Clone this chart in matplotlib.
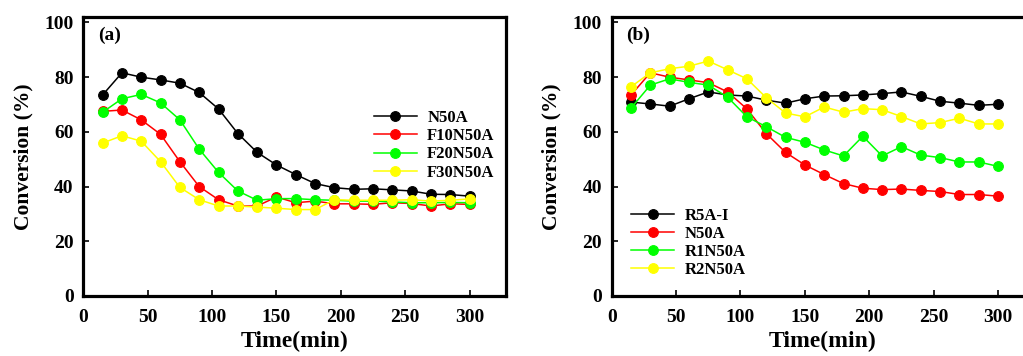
import matplotlib.pyplot as plt

plt.rcParams['font.family'] = 'Liberation Serif'
plt.rcParams['font.weight'] = 'bold'

time = [15, 30, 45, 60, 75, 90, 105, 120, 135, 150, 165, 180, 195, 210, 225, 240, 255, 270, 285, 300]

# panel (a)
n50a_a = [73.5, 81.6, 80.0, 79.0, 77.8, 74.4, 68.4, 59.4, 52.5, 47.9, 44.4, 41.1, 39.6, 39.0, 39.2, 38.8, 38.4, 37.2, 37.1, 36.5]
f10n50a = [67.5, 68.0, 64.4, 59.1, 49.1, 40.0, 35.2, 32.9, 32.9, 36.2, 34.1, 34.7, 33.7, 33.7, 33.5, 34.1, 33.8, 32.9, 33.7, 33.5]
f20n50a = [67.2, 72.1, 73.7, 70.6, 64.4, 53.7, 45.2, 38.4, 35.0, 35.6, 35.6, 35.2, 35.0, 34.7, 34.7, 34.4, 34.1, 34.1, 34.2, 34.1]
f30n50a = [55.9, 58.6, 56.6, 49.1, 39.7, 35.2, 32.9, 32.9, 32.5, 32.1, 31.6, 31.6, 35.2, 35.0, 35.0, 35.0, 35.2, 34.7, 35.0, 35.5]

# panel (b)
r5a_i = [70.9, 70.2, 69.4, 72.1, 74.6, 73.5, 73.1, 71.6, 70.5, 72.1, 73.1, 73.2, 73.5, 74.0, 74.6, 73.0, 71.2, 70.5, 69.7, 70.1]
n50a_b = [73.5, 81.6, 80.0, 79.0, 78.0, 74.6, 68.4, 59.4, 52.5, 47.9, 44.4, 41.1, 39.4, 38.9, 39.1, 38.6, 38.2, 37.1, 37.1, 36.5]
r1n50a = [68.7, 77.1, 79.4, 78.1, 77.1, 72.7, 65.5, 61.9, 58.0, 56.2, 53.4, 51.2, 58.4, 51.2, 54.6, 51.5, 50.6, 49.0, 49.0, 47.4]
r2n50a = [76.5, 81.6, 83.1, 84.0, 85.9, 82.7, 79.4, 72.5, 66.9, 65.5, 69.1, 67.2, 68.5, 68.1, 65.6, 62.9, 63.4, 65.0, 62.9, 62.9]

colors = ['black', '#ff0000', '#00ff00', '#ffff00']

fig = plt.figure(figsize=(10.23, 3.56), dpi=100)
W, H = 1023, 356
ax1 = fig.add_axes([83.3 / W, 1 - 296 / H, 422.4 / W, 279 / H])
ax2 = fig.add_axes([611.7 / W, 1 - 296 / H, 422.4 / W, 279 / H])


def style(ax, tag):
    ax.set_xlim(0, 328)
    ax.set_ylim(0, 102)
    ax.set_xticks([0, 50, 100, 150, 200, 250, 300])
    ax.set_yticks([0, 20, 40, 60, 80, 100])
    for s in ax.spines.values():
        s.set_linewidth(2.3)
    ax.tick_params(direction='in', length=4, width=1.2, labelsize=14, pad=7)
    ax.tick_params(axis='x', pad=9)
    for lab in ax.get_xticklabels() + ax.get_yticklabels():
        lab.set_fontweight('bold')
    ax.set_xlabel('Time(min)', fontsize=17, fontweight='bold', labelpad=4)
    ax.set_ylabel('Conversion (%)', fontsize=15.5, fontweight='bold', labelpad=8)
    ax.text(0.035, 0.965, tag, transform=ax.transAxes, fontsize=14, fontweight='bold', va='top')


for ys, lab, c in zip([n50a_a, f10n50a, f20n50a, f30n50a], ['N50A', 'F10N50A', 'F20N50A', 'F30N50A'], colors):
    ax1.plot(time, ys, '-o', color=c, lw=1.1, ms=7, mew=0.8, label=lab)
style(ax1, '(a)')
ax1.legend(loc='upper left', bbox_to_anchor=(0.672, 0.69), frameon=False,
           handlelength=2.6, handletextpad=0.6, labelspacing=0.13, borderaxespad=0,
           prop={'weight': 'bold', 'size': 12})

for ys, lab, c in zip([r5a_i, n50a_b, r1n50a, r2n50a], ['R5A-I', 'N50A', 'R1N50A', 'R2N50A'], colors):
    ax2.plot(time, ys, '-o', color=c, lw=1.1, ms=7, mew=0.8, label=lab)
style(ax2, '(b)')
ax2.legend(loc='upper left', bbox_to_anchor=(0.03, 0.34), frameon=False,
           handlelength=2.6, handletextpad=0.6, labelspacing=0.13, borderaxespad=0,
           prop={'weight': 'bold', 'size': 12})

fig.savefig('out.png', dpi=100)
